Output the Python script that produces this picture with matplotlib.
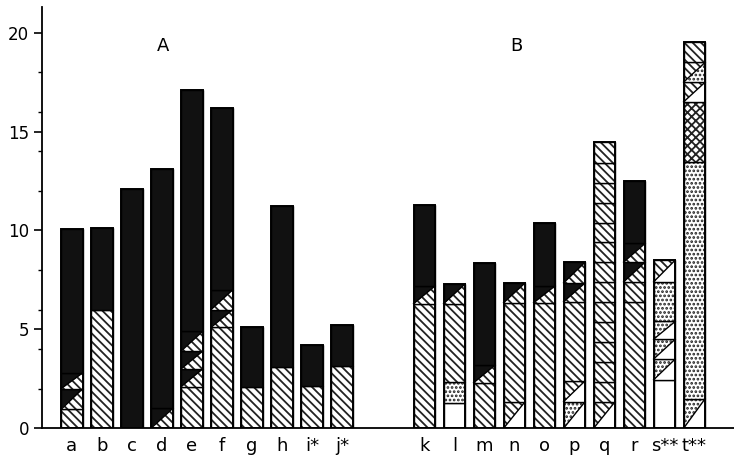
import matplotlib
matplotlib.use('Agg')
import matplotlib.pyplot as plt
from matplotlib.patches import Polygon, Rectangle
import numpy as np

plt.rcParams['hatch.linewidth'] = 1.3
plt.rcParams['font.family'] = 'DejaVu Sans'

labels_a = ['a', 'b', 'c', 'd', 'e', 'f', 'g', 'h', 'i*', 'j*']
labels_b = ['k', 'l', 'm', 'n', 'o', 'p', 'q', 'r', 's**', 't**']

# cumulative segment tops and fills per bar
# fills: k black, h hatched, d dotted, w white, x crossed; 'lower/upper' = diagonal split
a_tops = [0.95, 2.0, 2.8, 10.05]
a_fill = ['h', 'h/k', 'h/k', 'k']
b_tops = [6.0, 10.1]
b_fill = ['h', 'k']
c_tops = [12.1]
c_fill = ['k']
d_tops = [1.0, 13.1]
d_fill = ['h/k', 'k']
e_tops = [2.1, 3.0, 3.9, 4.9, 17.1]
e_fill = ['h', 'h/k', 'h/k', 'h/k', 'k']
f_tops = [5.1, 6.0, 7.0, 16.2]
f_fill = ['h', 'h/k', 'h/k', 'k']
g_tops = [2.1, 5.1]
g_fill = ['h', 'k']
h_tops = [3.1, 11.25]
h_fill = ['h', 'k']
i_tops = [2.15, 4.2]
i_fill = ['h', 'k']
j_tops = [3.15, 5.2]
j_fill = ['h', 'k']

k_tops = [6.3, 7.2, 11.3]
k_fill = ['h', 'h/k', 'k']
l_tops = [1.26, 2.32, 6.3, 7.3]
l_fill = ['w', 'd', 'h', 'h/k']
m_tops = [2.3, 3.2, 8.35]
m_fill = ['h', 'h/k', 'k']
n_tops = [1.35, 6.35, 7.35]
n_fill = ['w/h', 'h', 'h/k']
o_tops = [6.35, 7.2, 10.4]
o_fill = ['h', 'h/k', 'k']
p_tops = [1.35, 2.4, 6.4, 7.35, 8.4]
p_fill = ['w/d', 'w/h', 'h', 'h/k', 'h/k']
q_tops = [1.35, 2.35, 3.35, 4.35, 5.35, 6.4, 7.4, 8.4, 9.4, 10.4, 11.4, 12.4, 13.4, 14.45]
q_fill = ['w/h'] + ['h'] * 13
r_tops = [6.4, 7.4, 8.4, 9.35, 12.5]
r_fill = ['h', 'h', 'h/k', 'h/k', 'k']
s_tops = [2.45, 3.5, 4.5, 5.4, 7.4, 8.5]
s_fill = ['w', 'w/d', 'w/d', 'w/d', 'd', 'w/h']
t_tops = [1.5, 13.45, 16.5, 17.5, 18.5, 19.55]
t_fill = ['w/d', 'd', 'x', 'w/h', 'd/h', 'h']

group_a = [(a_tops, a_fill), (b_tops, b_fill), (c_tops, c_fill), (d_tops, d_fill),
           (e_tops, e_fill), (f_tops, f_fill), (g_tops, g_fill), (h_tops, h_fill),
           (i_tops, i_fill), (j_tops, j_fill)]
group_b = [(k_tops, k_fill), (l_tops, l_fill), (m_tops, m_fill), (n_tops, n_fill),
           (o_tops, o_fill), (p_tops, p_fill), (q_tops, q_fill), (r_tops, r_fill),
           (s_tops, s_fill), (t_tops, t_fill)]

x_a = np.arange(10)
x_b = np.arange(10) + 11.75

BACKSLASH = chr(92)
STYLE = {
    'k': dict(facecolor='#111111', hatch=None),
    'h': dict(facecolor='white', hatch=BACKSLASH * 4),
    'd': dict(facecolor='white', hatch='.' * 4),
    'w': dict(facecolor='white', hatch=None),
    'x': dict(facecolor='white', hatch='xxxx'),
}
W = 0.72


def fill_patch(ax, verts, kind):
    ax.add_patch(Polygon(verts, closed=True, edgecolor='#222222', linewidth=0,
                         **STYLE[kind]))


def draw_bar(ax, x, tops, fills):
    x0, x1 = x - W / 2, x + W / 2
    bottom = 0.0
    for top, kind in zip(tops, fills):
        if '/' in kind:
            lower, upper = kind.split('/')
            fill_patch(ax, [(x0, bottom), (x1, bottom), (x1, top)], lower)
            fill_patch(ax, [(x0, bottom), (x0, top), (x1, top)], upper)
            ax.plot([x0, x1], [bottom, top], color='black', lw=1.0)
        else:
            fill_patch(ax, [(x0, bottom), (x1, bottom), (x1, top), (x0, top)], kind)
        ax.add_patch(Rectangle((x0, bottom), W, top - bottom, fill=False,
                               edgecolor='black', linewidth=1.0))
        bottom = top
    ax.add_patch(Rectangle((x0, 0), W, tops[-1], fill=False,
                           edgecolor='black', linewidth=1.4))


fig = plt.figure(figsize=(7.34, 4.62), dpi=100)
ax = fig.add_axes([0.057, 0.073, 0.943, 0.912])

for x, (tops, fills) in zip(x_a, group_a):
    draw_bar(ax, x, tops, fills)
for x, (tops, fills) in zip(x_b, group_b):
    draw_bar(ax, x, tops, fills)

ax.set_xlim(-1.0, 22.07)
ax.set_ylim(0, 21.3)

ax.set_xticks(np.concatenate([x_a, x_b]))
ax.set_xticklabels(labels_a + labels_b, fontsize=13)
ax.tick_params(axis='x', length=0, pad=6)
ax.set_yticks([0, 5, 10, 15, 20])
ax.set_yticks([2, 4, 6, 8, 12, 14, 16, 18], minor=True)
ax.tick_params(axis='y', labelsize=12, length=6, width=1.2, pad=3)
ax.tick_params(axis='y', which='minor', length=3, width=1.0)

for side in ['top', 'right']:
    ax.spines[side].set_visible(False)
ax.spines['left'].set_linewidth(1.3)
ax.spines['bottom'].set_linewidth(1.3)

ax.text(3.03, 19.3, 'A', fontsize=13, ha='center', va='center')
ax.text(14.83, 19.35, 'B', fontsize=13, ha='center', va='center')

fig.savefig('out.png', dpi=100)
